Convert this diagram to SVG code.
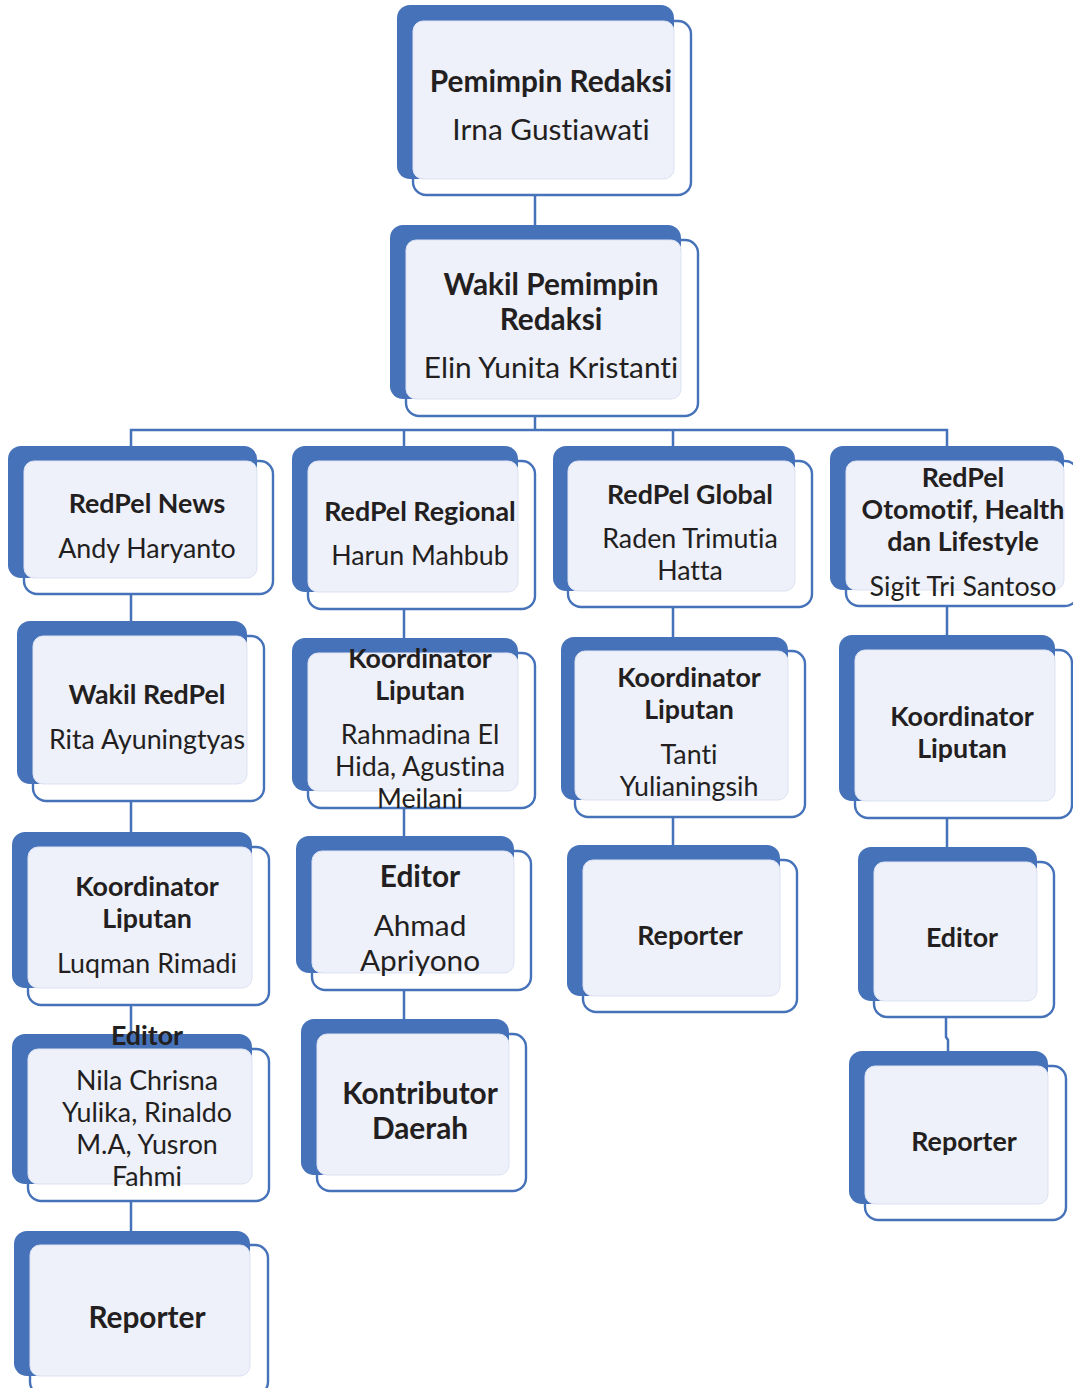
<svg xmlns="http://www.w3.org/2000/svg" width="1073" height="1388" viewBox="0 0 1073 1388">
<style>
.c{fill:none;stroke:#4672B9;stroke-width:2.5}
.o{fill:#FFFFFF;fill-opacity:0.82;stroke:#4672B9;stroke-width:2.4}
.b{fill:#4672B9}
.l{fill:#EEF0FA;stroke:#DDE3F3;stroke-width:1}
text{font-family:Lato,"Liberation Sans",sans-serif;fill:#231F20;text-anchor:middle;font-variant-ligatures:none;font-feature-settings:"liga" 0,"dlig" 0}
.t{font-weight:700;font-size:26.8px}
.n{font-weight:400;font-size:26.8px}
.T{font-weight:700;font-size:29.8px}
.N{font-weight:400;font-size:29.8px}
</style>
<g id="connectors">
<path class="c" d="M535 195V240"/>
<path class="c" d="M535 416V430M131 461V430H947V461M404 430V461M673 430V461"/>
<path class="c" d="M131 594V636M404 609V653M673 607V651M947 606V650"/>
<path class="c" d="M131 801V847M404 808V851M673 817V860M947 818V862"/>
<path class="c" d="M131 1005V1049M404 990V1034M946 1017V1037L948 1040V1066"/>
<path class="c" d="M131 1201V1245"/>
</g>
<g id="n1">
<rect class="o" x="413" y="21" width="278" height="174" rx="13"/>
<rect class="b" x="397" y="5" width="277" height="174" rx="13"/>
<rect class="l" x="413" y="21" width="261" height="158" rx="10"/>
<text class="T" x="551" y="92">Pemimpin Redaksi</text>
<text class="N" x="551" y="140">Irna Gustiawati</text>
</g>
<g id="n2">
<rect class="o" x="406" y="240" width="292" height="176" rx="13"/>
<rect class="b" x="390" y="225" width="291" height="174" rx="13"/>
<rect class="l" x="406" y="240" width="275" height="159" rx="10"/>
<text class="T" x="551" y="295">Wakil Pemimpin</text>
<text class="T" x="551" y="330">Redaksi</text>
<text class="N" x="551" y="378">Elin Yunita Kristanti</text>
</g>
<g id="n3">
<rect class="o" x="24" y="461" width="249" height="133" rx="13"/>
<rect class="b" x="8" y="446" width="249" height="132" rx="13"/>
<rect class="l" x="24" y="461" width="233" height="117" rx="10"/>
<text class="t" x="147" y="513">RedPel News</text>
<text class="n" x="147" y="558">Andy Haryanto</text>
</g>
<g id="n4">
<rect class="o" x="308" y="461" width="227" height="148" rx="13"/>
<rect class="b" x="292" y="446" width="226" height="146" rx="13"/>
<rect class="l" x="308" y="461" width="210" height="131" rx="10"/>
<text class="t" x="420" y="521">RedPel Regional</text>
<text class="n" x="420" y="565">Harun Mahbub</text>
</g>
<g id="n5">
<rect class="o" x="568" y="461" width="244" height="146" rx="13"/>
<rect class="b" x="553" y="446" width="242" height="145" rx="13"/>
<rect class="l" x="568" y="461" width="227" height="130" rx="10"/>
<text class="t" x="690" y="504">RedPel Global</text>
<text class="n" x="690" y="548">Raden Trimutia</text>
<text class="n" x="690" y="580">Hatta</text>
</g>
<g id="n6">
<rect class="o" x="846" y="461" width="232" height="145" rx="13"/>
<rect class="b" x="830" y="446" width="234" height="144" rx="13"/>
<rect class="l" x="846" y="461" width="218" height="129" rx="10"/>
<text class="t" x="963" y="487">RedPel</text>
<text class="t" x="963" y="519">Otomotif, Health</text>
<text class="t" x="963" y="551">dan Lifestyle</text>
<text class="n" x="963" y="596">Sigit Tri Santoso</text>
</g>
<g id="n7">
<rect class="o" x="33" y="636" width="231" height="165" rx="13"/>
<rect class="b" x="17" y="621" width="230" height="163" rx="13"/>
<rect class="l" x="33" y="636" width="214" height="148" rx="10"/>
<text class="t" x="147" y="704">Wakil RedPel</text>
<text class="n" x="147" y="749">Rita Ayuningtyas</text>
</g>
<g id="n8">
<rect class="o" x="308" y="653" width="227" height="155" rx="13"/>
<rect class="b" x="292" y="638" width="226" height="153" rx="13"/>
<rect class="l" x="308" y="653" width="210" height="138" rx="10"/>
<text class="t" x="420" y="668">Koordinator</text>
<text class="t" x="420" y="700">Liputan</text>
<text class="n" x="420" y="744">Rahmadina El</text>
<text class="n" x="420" y="776">Hida, Agustina</text>
<text class="n" x="420" y="808">Meilani</text>
</g>
<g id="n9">
<rect class="o" x="575" y="651" width="230" height="166" rx="13"/>
<rect class="b" x="561" y="637" width="227" height="163" rx="13"/>
<rect class="l" x="575" y="651" width="213" height="149" rx="10"/>
<text class="t" x="689" y="687">Koordinator</text>
<text class="t" x="689" y="719">Liputan</text>
<text class="n" x="689" y="764">Tanti</text>
<text class="n" x="689" y="796">Yulianingsih</text>
</g>
<g id="n10">
<rect class="o" x="855" y="650" width="217" height="168" rx="13"/>
<rect class="b" x="839" y="635" width="216" height="166" rx="13"/>
<rect class="l" x="855" y="650" width="200" height="151" rx="10"/>
<text class="t" x="962" y="726">Koordinator</text>
<text class="t" x="962" y="758">Liputan</text>
</g>
<g id="n11">
<rect class="o" x="28" y="847" width="241" height="158" rx="13"/>
<rect class="b" x="12" y="832" width="240" height="156" rx="13"/>
<rect class="l" x="28" y="847" width="224" height="141" rx="10"/>
<text class="t" x="147" y="896">Koordinator</text>
<text class="t" x="147" y="928">Liputan</text>
<text class="n" x="147" y="973">Luqman Rimadi</text>
</g>
<g id="n12">
<rect class="o" x="312" y="851" width="219" height="139" rx="13"/>
<rect class="b" x="296" y="836" width="218" height="137" rx="13"/>
<rect class="l" x="312" y="851" width="202" height="122" rx="10"/>
<text class="T" x="420" y="887">Editor</text>
<text class="N" x="420" y="936">Ahmad</text>
<text class="N" x="420" y="971">Apriyono</text>
</g>
<g id="n13">
<rect class="o" x="583" y="860" width="214" height="152" rx="13"/>
<rect class="b" x="567" y="845" width="213" height="151" rx="13"/>
<rect class="l" x="583" y="860" width="197" height="136" rx="10"/>
<text class="t" x="690" y="945">Reporter</text>
</g>
<g id="n14">
<rect class="o" x="874" y="862" width="180" height="155" rx="13"/>
<rect class="b" x="858" y="847" width="179" height="154" rx="13"/>
<rect class="l" x="874" y="862" width="163" height="139" rx="10"/>
<text class="t" x="962" y="947">Editor</text>
</g>
<g id="n15">
<rect class="o" x="28" y="1049" width="241" height="152" rx="13"/>
<rect class="b" x="12" y="1034" width="240" height="150" rx="13"/>
<rect class="l" x="28" y="1049" width="224" height="135" rx="10"/>
<text class="t" x="147" y="1045">Editor</text>
<text class="n" x="147" y="1090">Nila Chrisna</text>
<text class="n" x="147" y="1122">Yulika, Rinaldo</text>
<text class="n" x="147" y="1154">M.A, Yusron</text>
<text class="n" x="147" y="1186">Fahmi</text>
</g>
<g id="n16">
<rect class="o" x="317" y="1034" width="209" height="157" rx="13"/>
<rect class="b" x="301" y="1019" width="208" height="156" rx="13"/>
<rect class="l" x="317" y="1034" width="192" height="141" rx="10"/>
<text class="T" x="420" y="1104">Kontributor</text>
<text class="T" x="420" y="1139">Daerah</text>
</g>
<g id="n17">
<rect class="o" x="865" y="1066" width="201" height="154" rx="13"/>
<rect class="b" x="849" y="1051" width="199" height="153" rx="13"/>
<rect class="l" x="865" y="1066" width="183" height="138" rx="10"/>
<text class="t" x="964" y="1151">Reporter</text>
</g>
<g id="n18">
<rect class="o" x="30" y="1245" width="238" height="150" rx="13"/>
<rect class="b" x="14" y="1231" width="236" height="145" rx="13"/>
<rect class="l" x="30" y="1245" width="220" height="131" rx="10"/>
<text class="T" x="147" y="1328">Reporter</text>
</g>
</svg>
